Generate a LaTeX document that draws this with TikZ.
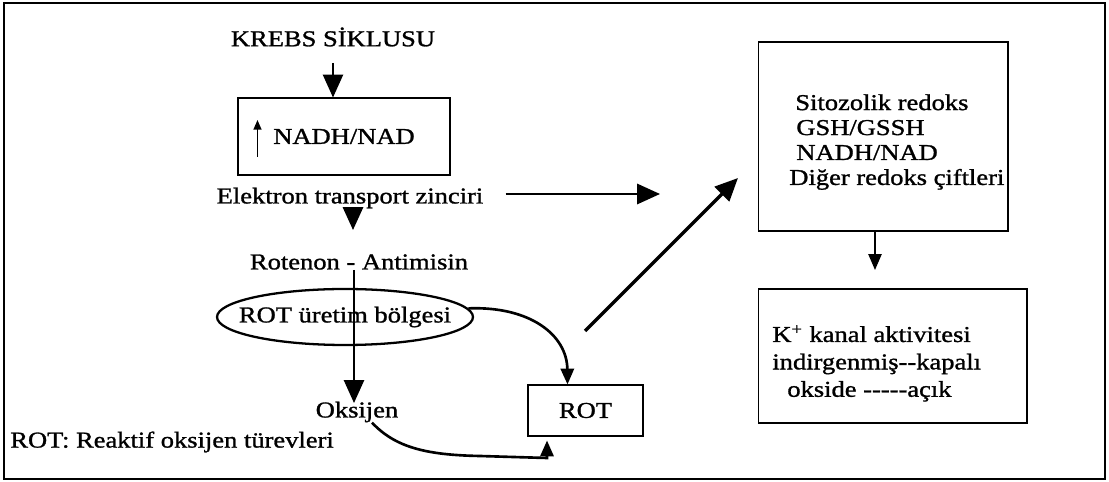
\documentclass[tikz,border=0pt]{standalone}
\usepackage{fontspec}
\setmainfont{Liberation Serif}[FakeStretch=1.17,FakeBold=1.2]
\usetikzlibrary{arrows.meta,shapes.geometric}
\newcommand\fs{\fontsize{12.9pt}{14.2pt}\selectfont}
\tikzset{
  box/.style={draw,line width=0.6pt,inner sep=0pt,font=\fs},
  lbl/.style={inner sep=0pt,font=\fs},
  oval/.style={draw,ellipse,line width=1.3pt,inner sep=0pt,font=\fs},
  arr/.style={-{Triangle[length=13pt,width=11.5pt]},line width=1.3pt},
  midarr/.style={-{Triangle[length=9pt,width=7.5pt]},line width=1.5pt},
  smallarr/.style={-{Triangle[length=5.5pt,width=4.5pt]},line width=0.9pt}
}
\begin{document}
\begin{tikzpicture}[x=0.02cm,y=-0.02cm]
  \useasboundingbox (0,0) rectangle (1109,482);
  \draw[line width=1.1pt] (4,3) rectangle (1105,479);

  % left column
  \node[lbl] (krebs) at (333,37) {KREBS SİKLUSU};
  \node[box,minimum width=4.24cm,minimum height=1.54cm] (nadh) at (344,136.5) {NADH/NAD};
  \node[lbl] (elektron) at (350,198) {Elektron transport zinciri};
  \node[lbl] (rotenon) at (359,262) {Rotenon - Antimisin};
  \node[oval,minimum width=5.12cm,minimum height=1.12cm] (rotgen) at (345,317) {\makebox[0pt]{ROT üretim bölgesi}};
  \node[lbl] (oksijen) at (357,412) {Oksijen};
  \node[lbl,anchor=west] (legend) at (10,442) {ROT: Reaktif oksijen türevleri};
  \node[box,minimum width=2.3cm,minimum height=1.02cm] (rotbox) at (585.5,410.5) {ROT};

  % right column
  \node[box,minimum width=5cm,minimum height=3.78cm] (sito) at (883,136.5) {};
  \node[lbl,align=left,anchor=north west] (sitotext) at (789,94)
    {\hspace*{0.12cm}Sitozolik redoks\\\hspace*{0.14cm}GSH/GSSH\\\hspace*{0.14cm}NADH/NAD\\Diğer redoks çiftleri};
  \node[box,minimum width=5.38cm,minimum height=2.68cm] (kbox) at (892.5,356) {};
  \node[lbl,align=left,anchor=north west,font=\fontsize{12.9pt}{15.6pt}\selectfont] (ktext) at (772,325)
    {K\textsuperscript{+} kanal aktivitesi\\indirgenmiş-{}-kapalı\\\hspace*{0.3cm}okside -{}-{}-{}-{}-açık};

  \coordinate (tri) at (353,230);
  \coordinate (drop) at (354,403);
  \coordinate (hortip) at (660,194);
  \coordinate (diagtail) at (585,331);
  \coordinate (diagtip) at (738,178);
  \coordinate (kin) at (875,270);

  \draw[arr,line width=0.9pt,shorten <=0.32cm] (krebs.south) -- (krebs.south |- nadh.north);
  \draw[smallarr] ([xshift=0.4cm,yshift=-0.41cm]nadh.west) -- ++(0,-37);
  \draw[arr] (elektron.south -| tri) -- (tri);
  \draw[arr,shorten <=0.44cm] (elektron.east |- hortip) -- (hortip);
  \draw[arr,line width=0.9pt] (rotenon.south -| drop) -- (drop);
  \draw[midarr] (rotgen.4) .. controls (530,306) and (567,335) .. ([xshift=-0.36cm]rotbox.north);
  \draw[midarr] ([xshift=0.3cm]oksijen.south) .. controls (395,447) and (425,455) .. (480,456)
    -- (547,458) -- ([xshift=-0.77cm,yshift=-0.08cm]rotbox.south);
  \draw[arr,line width=2pt] (diagtail) -- (diagtip);
  \draw[midarr,line width=0.9pt] (sito.south -| kin) -- (kin);
\end{tikzpicture}
\end{document}
